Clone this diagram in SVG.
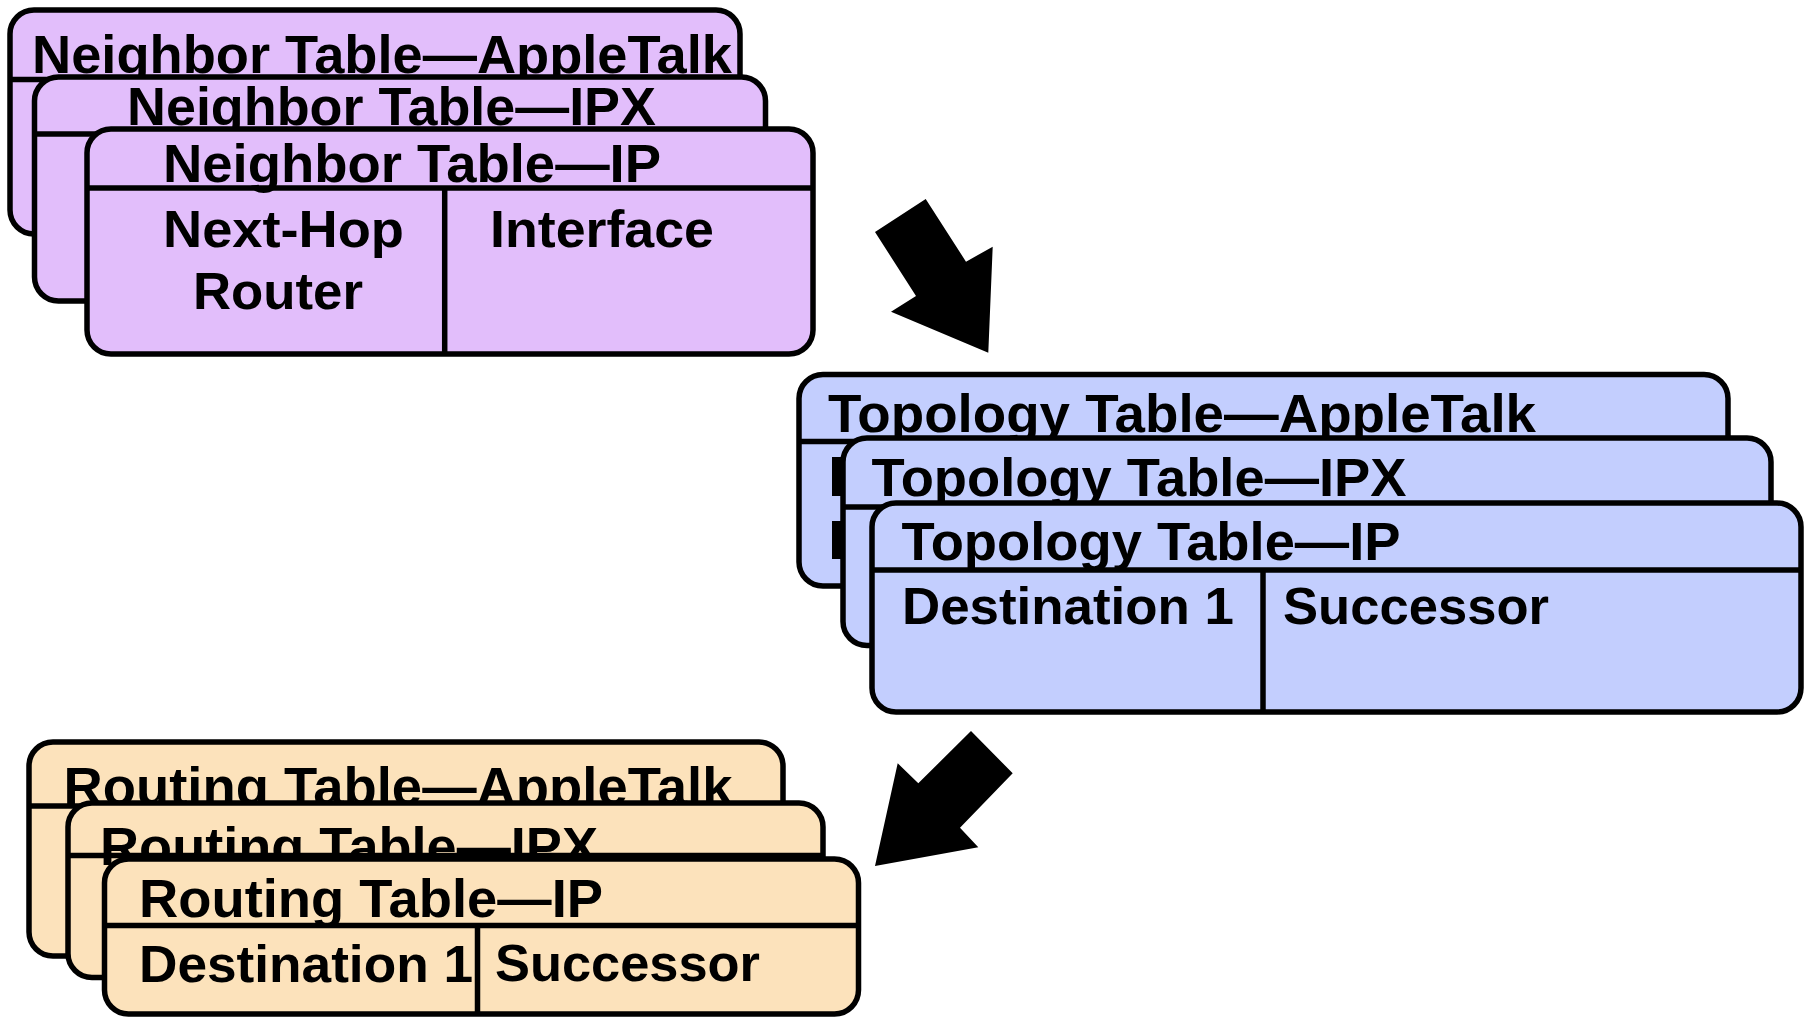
<svg xmlns="http://www.w3.org/2000/svg" width="1808" height="1018" viewBox="0 0 1808 1018">
<style>
.box{stroke:#000;stroke-width:5.5}
.nb{fill:#E2BEFB}
.tp{fill:#C3CEFE}
.rt{fill:#FCE2BB}
.ln{stroke:#000;stroke-width:5.5;fill:none}
.t{font-family:"Liberation Sans",Arial,Helvetica,sans-serif;font-weight:bold;fill:#000}
.h{font-size:53px}
.b{font-size:52px}
</style>
<rect width="1808" height="1018" fill="#fff"/>
<g id="neighbor-appletalk">
<rect class="box nb" x="10" y="10" width="730" height="224" rx="24"/>
<line class="ln" x1="10" y1="79.5" x2="740" y2="79.5"/>
<text class="t h" x="32" y="73" textLength="700" lengthAdjust="spacingAndGlyphs">Neighbor Table—AppleTalk</text>
</g>
<g id="neighbor-ipx">
<rect class="box nb" x="34.5" y="77" width="731" height="224" rx="24"/>
<line class="ln" x1="34.5" y1="134" x2="765.5" y2="134"/>
<text class="t h" x="127" y="125" textLength="529" lengthAdjust="spacingAndGlyphs">Neighbor Table—IPX</text>
</g>
<g id="neighbor-ip">
<rect class="box nb" x="87" y="129" width="726" height="225" rx="24"/>
<line class="ln" x1="87" y1="188" x2="813" y2="188"/>
<line class="ln" x1="444.7" y1="188" x2="444.7" y2="354"/>
<text class="t h" x="163" y="182" textLength="498" lengthAdjust="spacingAndGlyphs">Neighbor Table—IP</text>
<text class="t b" x="163" y="247" textLength="241" lengthAdjust="spacingAndGlyphs">Next-Hop</text>
<text class="t b" x="193" y="309" textLength="170" lengthAdjust="spacingAndGlyphs">Router</text>
<text class="t b" x="490" y="247" textLength="224" lengthAdjust="spacingAndGlyphs">Interface</text>
</g>
<g id="topology-appletalk">
<rect class="box tp" x="799" y="374.5" width="929" height="211.5" rx="24"/>
<line class="ln" x1="799" y1="441.5" x2="1728" y2="441.5"/>
<text class="t h" x="828" y="432" textLength="708" lengthAdjust="spacingAndGlyphs">Topology Table—AppleTalk</text>
<rect x="832" y="457" width="10" height="39" fill="#000"/>
<rect x="832" y="521" width="10" height="38" fill="#000"/>
</g>
<g id="topology-ipx">
<rect class="box tp" x="843" y="438" width="928" height="207.5" rx="24"/>
<line class="ln" x1="843" y1="507" x2="1771" y2="507"/>
<text class="t h" x="871.5" y="496" textLength="535" lengthAdjust="spacingAndGlyphs">Topology Table—IPX</text>
</g>
<g id="topology-ip">
<rect class="box tp" x="872" y="503" width="929" height="209" rx="24"/>
<line class="ln" x1="872" y1="570" x2="1801" y2="570"/>
<line class="ln" x1="1263" y1="570" x2="1263" y2="712"/>
<text class="t h" x="901.5" y="560" textLength="499" lengthAdjust="spacingAndGlyphs">Topology Table—IP</text>
<text class="t b" x="902" y="624" textLength="332" lengthAdjust="spacingAndGlyphs">Destination 1</text>
<text class="t b" x="1283" y="624" textLength="266" lengthAdjust="spacingAndGlyphs">Successor</text>
</g>
<g id="routing-appletalk">
<rect class="box rt" x="29" y="742" width="754" height="214" rx="24"/>
<line class="ln" x1="29" y1="806" x2="783" y2="806"/>
<text class="t h" x="63.5" y="805" textLength="669" lengthAdjust="spacingAndGlyphs">Routing Table—AppleTalk</text>
</g>
<g id="routing-ipx">
<rect class="box rt" x="68" y="803" width="755" height="174.5" rx="24"/>
<line class="ln" x1="68" y1="855.5" x2="823" y2="855.5"/>
<text class="t h" x="100" y="865" textLength="498" lengthAdjust="spacingAndGlyphs">Routing Table—IPX</text>
</g>
<g id="routing-ip">
<rect class="box rt" x="104.5" y="859" width="754" height="155" rx="24"/>
<line class="ln" x1="104.5" y1="925.5" x2="858.5" y2="925.5"/>
<line class="ln" x1="477.5" y1="925.5" x2="477.5" y2="1014"/>
<text class="t h" x="139" y="917" textLength="464" lengthAdjust="spacingAndGlyphs">Routing Table—IP</text>
<text class="t b" x="139" y="981.5" textLength="334" lengthAdjust="spacingAndGlyphs">Destination 1</text>
<text class="t b" x="495" y="981" textLength="265" lengthAdjust="spacingAndGlyphs">Successor</text>
</g>
<g id="connectors">
<polygon fill="#000" points="875,232 925.7,199 966,261.7 992.7,246.7 988.3,352.7 891,311.7 916,296"/>
<polygon fill="#000" points="971,731 1012.7,773.3 960,827.7 978.3,847.3 875,866 897.7,763.3 918.3,783.3"/>
</g>
</svg>
